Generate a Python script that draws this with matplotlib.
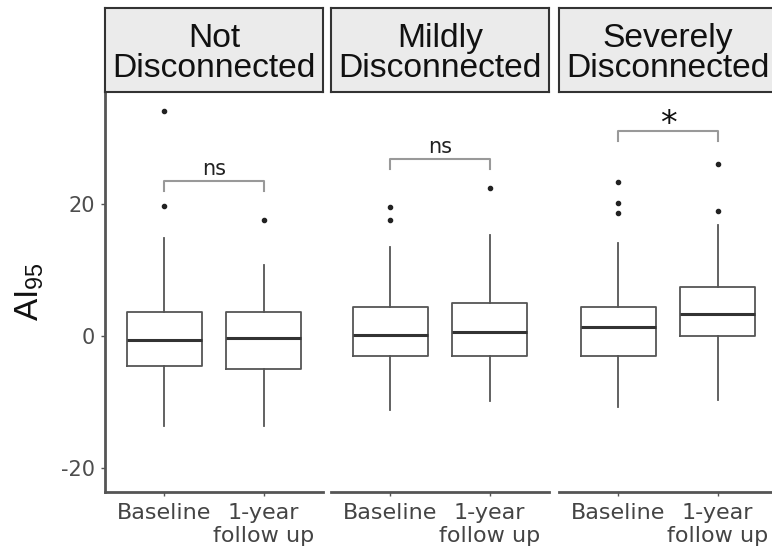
import matplotlib.pyplot as plt

plt.rcParams['font.family'] = 'DejaVu Sans'
plt.rcParams['mathtext.default'] = 'regular'

# 패널(그룹)과 시점
groups = ['Not\nDisconnected', 'Mildly\nDisconnected', 'Severely\nDisconnected']
timepoints = ['Baseline', '1-year\nfollow up']

# 박스플롯 통계값 (그룹별 [baseline, follow up])
q1 = [[-4.5, -5.0], [-3.0, -3.0], [-3.1, 0.0]]
med = [[-0.65, -0.35], [0.15, 0.65], [1.3, 3.4]]
q3 = [[3.7, 3.7], [4.4, 4.95], [4.4, 7.4]]
whislo = [[-13.7, -13.7], [-11.2, -9.8], [-10.7, -9.7]]
whishi = [[14.8, 10.8], [13.5, 15.3], [14.1, 16.8]]
outliers = [[[34.1, 19.7], [17.5]],
            [[19.6, 17.5], [22.4]],
            [[23.4, 20.1, 18.7], [26.0, 19.0]]]

# 유의성 표시
sig_labels = ['ns', 'ns', '*']
bracket_y = [23.5, 26.8, 31.1]

W, H = 772, 560
fig = plt.figure(figsize=(W / 100, H / 100), dpi=100)

panel_left = [105, 331, 559]
panel_w = 218
panel_top, panel_bot = 92, 492
strip_top = 8

for i in range(3):
    ax = fig.add_axes([panel_left[i] / W, (H - panel_bot) / H,
                       panel_w / W, (panel_bot - panel_top) / H])
    stats = []
    for j in range(2):
        stats.append(dict(med=med[i][j], q1=q1[i][j], q3=q3[i][j],
                          whislo=whislo[i][j], whishi=whishi[i][j],
                          fliers=outliers[i][j]))
    ax.bxp(stats, positions=[1, 2], widths=0.75, showcaps=False,
           boxprops=dict(color='#555555', linewidth=1.3),
           whiskerprops=dict(color='#555555', linewidth=1.3),
           medianprops=dict(color='#333333', linewidth=2.2),
           flierprops=dict(marker='o', markersize=3, markerfacecolor='#222222',
                           markeredgecolor='#222222', linestyle='none'))

    # 유의성 브래킷
    by = bracket_y[i]
    ax.plot([1, 1, 2, 2], [by - 1.5, by, by, by - 1.5], color='#999999', lw=1.5)
    if sig_labels[i] == '*':
        ax.text(1.5, by - 1.5, '*', ha='center', va='bottom', fontsize=24,
                color='#111111')
    else:
        ax.text(1.5, by + 0.3, 'ns', ha='center', va='bottom', fontsize=15,
                color='#222222')

    ax.set_xlim(0.4, 2.6)
    ax.set_ylim(-23.64, 36.97)
    ax.set_xticks([1, 2])
    ax.set_xticklabels(timepoints)
    ax.tick_params(axis='x', length=3, width=1, color='#555555',
                   labelcolor='#444444', labelsize=16, pad=5)
    for s in ['top', 'right']:
        ax.spines[s].set_visible(False)
    ax.spines['bottom'].set_color('#555555')
    ax.spines['bottom'].set_linewidth(2)
    if i == 0:
        ax.set_yticks([-20, 0, 20])
        ax.set_yticklabels(['-20', '0', '20'])
        ax.tick_params(axis='y', length=3, width=1, color='#555555',
                       labelcolor='#4D4D4D', labelsize=15, pad=4)
        ax.spines['left'].set_color('#555555')
        ax.spines['left'].set_linewidth(2)
    else:
        ax.spines['left'].set_visible(False)
        ax.set_yticks([])

    # 패널 제목 스트립
    sx = fig.add_axes([panel_left[i] / W, (H - panel_top) / H,
                       panel_w / W, (panel_top - strip_top) / H])
    sx.set_facecolor('#EBEBEB')
    sx.set_xticks([])
    sx.set_yticks([])
    for s in sx.spines.values():
        s.set_color('#333333')
        s.set_linewidth(1.5)
    sx.text(0.5, 0.46, groups[i], ha='center', va='center', fontsize=24.2,
            family='Liberation Sans', color='#111111', linespacing=0.98,
            transform=sx.transAxes)

fig.text(30 / W, (H - 292) / H, 'AI$_{95}$', rotation=90, ha='center',
         va='center', fontsize=24, family='Liberation Sans', color='#111111')

fig.savefig('out.png', dpi=100)
